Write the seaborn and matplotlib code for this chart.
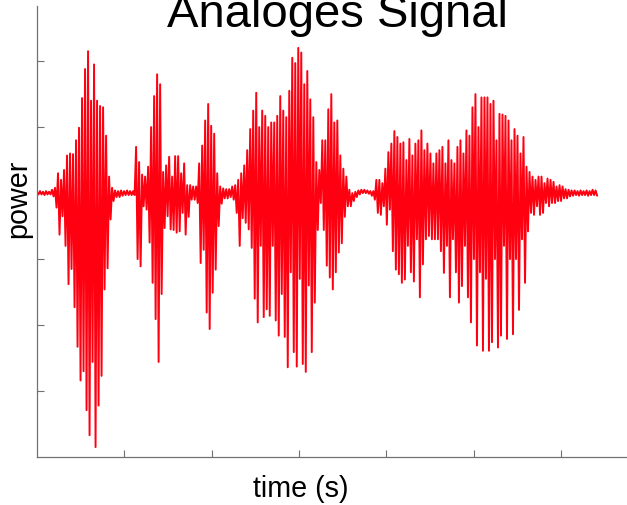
import numpy as np
import pandas as pd
import matplotlib
matplotlib.use("Agg")
import matplotlib.pyplot as plt
import seaborn as sns

# ---- data: per-frame positive and negative excursions of the signal ----
dt = 0.0086  # seconds between frames
upper = [
    0.02, 0.03, 0.02, 0.03, 0.02, 0.05, 0.08, 0.30, 0.20, 0.35,
    0.57, 0.60, 0.59, 0.80, 0.99, 1.44, 1.88, 2.15, 1.40, 1.95,
    1.40, 1.32, 1.30, 0.87, 0.25, 0.08, 0.04, 0.03, 0.04, 0.03,
    0.04, 0.03, 0.03, 0.70, 0.47, 0.28, 0.25, 0.40, 1.00, 1.47,
    1.80, 1.65, 0.32, 0.42, 0.55, 0.25, 0.56, 0.56, 0.30, 0.45,
    0.12, 0.12, 0.10, 0.10, 0.45, 0.72, 1.10, 1.35, 1.02, 0.90,
    0.30, 0.10, 0.07, 0.06, 0.06, 0.10, 0.12, 0.20, 0.30, 0.42,
    0.65, 0.97, 1.25, 1.52, 1.00, 1.25, 1.17, 1.00, 1.07, 1.07,
    1.17, 1.47, 1.25, 1.15, 1.55, 2.05, 1.97, 2.20, 2.13, 1.65,
    1.85, 1.42, 1.15, 0.47, 0.35, 0.80, 0.80, 1.27, 1.50, 1.07,
    1.10, 0.57, 0.37, 0.25, 0.05, 0.00, 0.02, 0.04, 0.05, 0.05,
    0.04, 0.03, 0.03, 0.20, 0.20, 0.15, 0.37, 0.62, 0.75, 0.94,
    0.85, 0.75, 0.77, 0.50, 0.82, 0.57, 0.75, 0.80, 0.95, 0.65,
    0.75, 0.60, 0.45, 0.60, 0.65, 0.70, 0.45, 0.80, 0.50, 0.45,
    0.70, 0.80, 0.60, 0.95, 0.87, 1.30, 1.50, 1.00, 1.45, 1.45,
    1.45, 1.35, 1.40, 0.80, 1.20, 1.19, 1.17, 1.10, 0.80, 0.97,
    0.87, 0.60, 0.85, 0.40, 0.32, 0.25, 0.20, 0.25, 0.25, 0.15,
    0.22, 0.20, 0.17, 0.10, 0.12, 0.10, 0.06, 0.05, 0.04, 0.04,
    0.03, 0.04, 0.03, 0.04, 0.03, 0.05, 0.04,
]
lower = [
    -0.02, -0.02, -0.03, -0.02, -0.02, -0.05, -0.22, -0.63, -0.35, -0.80,
    -1.38, -1.15, -1.73, -2.33, -2.84, -2.70, -3.29, -3.67, -2.56, -3.85,
    -3.22, -2.77, -1.46, -1.14, -0.40, -0.12, -0.06, -0.06, -0.04, -0.03,
    -0.03, -0.03, -0.03, -1.00, -1.11, -0.20, -0.25, -0.75, -1.36, -1.91,
    -2.56, -1.53, -0.53, -0.35, -0.55, -0.56, -0.60, -0.58, -0.30, -0.63,
    -0.36, -0.10, -0.10, -0.15, -1.06, -0.86, -1.81, -2.06, -1.51, -1.16,
    -0.50, -0.16, -0.08, -0.08, -0.06, -0.10, -0.30, -0.80, -0.38, -0.45,
    -0.55, -0.83, -1.60, -1.96, -0.80, -1.88, -1.76, -1.86, -0.80, -1.93,
    -2.16, -1.53, -2.18, -2.64, -1.20, -2.41, -2.63, -1.30, -2.59, -2.71,
    -1.40, -2.41, -1.66, -0.56, -0.15, -0.56, -1.10, -1.28, -1.46, -1.20,
    -0.90, -0.76, -0.36, -0.20, -0.20, -0.12, -0.06, -0.02, 0.00, 0.00,
    -0.01, -0.04, -0.10, -0.30, -0.33, -0.20, -0.48, -0.25, -0.88, -1.16,
    -1.23, -1.36, -1.31, -0.80, -1.20, -1.34, -0.70, -1.58, -1.08, -0.70,
    -0.65, -0.70, -0.70, -0.70, -0.88, -1.21, -0.80, -1.58, -0.70, -1.20,
    -1.66, -1.41, -0.80, -1.58, -1.96, -1.00, -2.31, -1.20, -2.39, -1.30,
    -2.39, -2.26, -1.00, -2.34, -2.16, -0.80, -2.21, -1.00, -2.14, -1.00,
    -1.77, -0.70, -1.36, -0.58, -0.30, -0.33, -0.20, -0.33, -0.30, -0.15,
    -0.20, -0.15, -0.15, -0.12, -0.12, -0.08, -0.08, -0.05, -0.04, -0.03,
    -0.04, -0.03, -0.03, -0.04, -0.03, -0.03, -0.04,
]
x_ticks = [0.25, 0.5, 0.75, 1.0, 1.25, 1.5]
y_ticks = [-3, -2, -1, 0, 1, 2]
title = "Analoges Signal"
xlabel = "time (s)"
ylabel = "power"

# ---- build sample sequence: each frame swings up then down ----
n = len(upper)
t_frame = np.arange(n) * dt
t = np.empty(2 * n)
v = np.empty(2 * n)
t[0::2] = t_frame
t[1::2] = t_frame + dt / 2
v[0::2] = upper
v[1::2] = lower
df = pd.DataFrame({"time": t, "power": v})

sns.set_style("white")
plt.rcParams["font.family"] = ["Liberation Sans", "DejaVu Sans"]

W, H = 627, 506
fig = plt.figure(figsize=(W / 100, H / 100), dpi=100)
ax = fig.add_axes([37 / W, (H - 458) / H, (W - 37) / W, (458 - 6.7) / H])

sns.lineplot(data=df, x="time", y="power", sort=False, estimator=None,
             color="#ff0010", linewidth=1.4, ax=ax)

ax.set_xlim(0, (W - 37) / 349.2)
ax.set_ylim(-4, 2.84)
ax.set_xticks(x_ticks)
ax.set_yticks(y_ticks)
ax.set_xticklabels([])
ax.set_yticklabels([])
ax.set_xlabel("")
ax.set_ylabel("")
ax.tick_params(direction="in", length=5, width=0.8, color="#707070",
               bottom=True, left=True)
for side in ["top", "right"]:
    ax.spines[side].set_visible(False)
for side in ["left", "bottom"]:
    ax.spines[side].set_color("#707070")
    ax.spines[side].set_linewidth(0.9)

fig.text(337.5 / W, (H - 27) / H, title, ha="center", va="baseline",
         fontsize=34, color="black")
fig.text(301 / W, (H - 497) / H, xlabel, ha="center", va="baseline",
         fontsize=20.7, color="black")
fig.text(18 / W, (H - 199) / H, ylabel, ha="center", va="center",
         rotation=90, fontsize=20.7, color="black")

fig.savefig("out.png", dpi=100)
